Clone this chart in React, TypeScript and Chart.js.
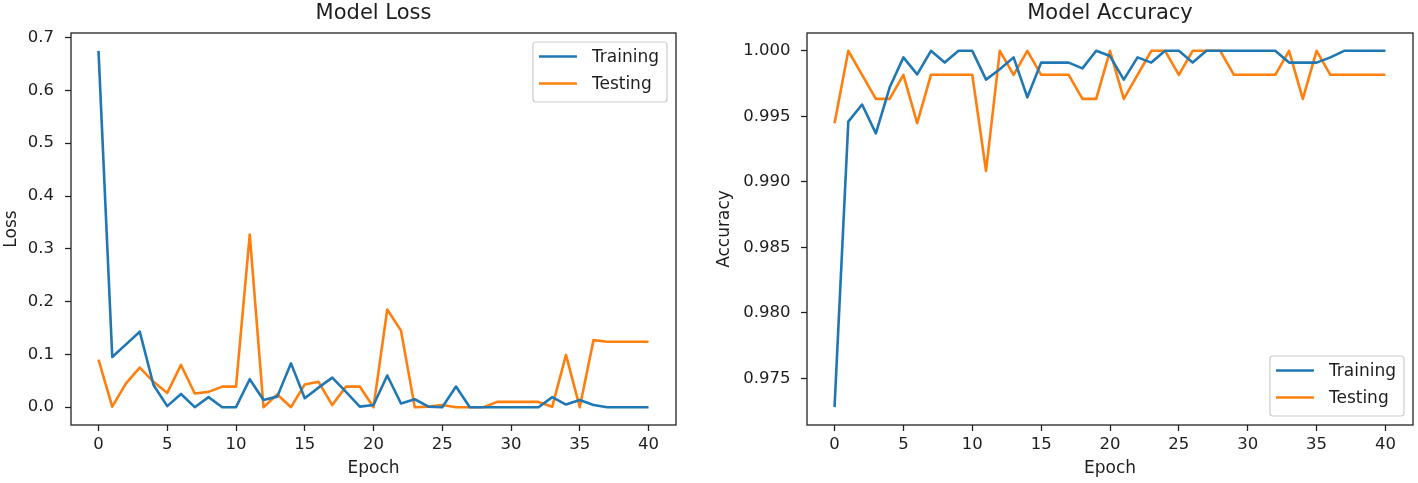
import React, { useEffect, useRef } from 'react';
import { Chart, registerables } from 'chart.js';

Chart.register(...registerables);

// ---------- data ----------
const epochs = [0, 1, 2, 3, 4, 5, 6, 7, 8, 9, 10, 11, 12, 13, 14, 15, 16, 17, 18, 19, 20,
  21, 22, 23, 24, 25, 26, 27, 28, 29, 30, 31, 32, 33, 34, 35, 36, 37, 38, 39, 40];

const trainLoss = [0.675, 0.095, 0.119, 0.143, 0.042, 0.002, 0.025, 0, 0.019, 0, 0,
  0.053, 0.0135, 0.02, 0.083, 0.017, 0.037, 0.056, 0.029, 0.001, 0.004,
  0.06, 0.007, 0.015, 0.001, 0, 0.039, 0, 0, 0, 0,
  0, 0, 0.019, 0.005, 0.0135, 0.004, 0, 0, 0, 0];

const testLoss = [0.09, 0.001, 0.045, 0.075, 0.048, 0.027, 0.08, 0.026, 0.029, 0.039, 0.039,
  0.327, 0, 0.024, 0, 0.043, 0.048, 0.004, 0.039, 0.039, 0,
  0.185, 0.145, 0, 0.001, 0.004, 0, 0, 0, 0.01, 0.01,
  0.01, 0.01, 0.001, 0.099, 0, 0.127, 0.124, 0.124, 0.124, 0.124];

const trainAcc = [0.9728, 0.9946, 0.9959, 0.9937, 0.9972, 0.9995, 0.9982, 1, 0.9991, 1, 1,
  0.9978, 0.9986, 0.9995, 0.99645, 0.9991, 0.9991, 0.9991, 0.99866, 1, 0.9996,
  0.9978, 0.9995, 0.9991, 1, 1, 0.9991, 1, 1, 1, 1,
  1, 1, 0.9991, 0.9991, 0.9991, 0.9995, 1, 1, 1, 1];

const testAcc = [0.99448, 1, 0.99817, 0.99633, 0.99633, 0.99817, 0.99448, 0.99817, 0.99817, 0.99817, 0.99817,
  0.99083, 1, 0.99817, 1, 0.99817, 0.99817, 0.99817, 0.99633, 0.99633, 1,
  0.99633, 0.99817, 1, 1, 0.99817, 1, 1, 1, 0.99817, 0.99817,
  0.99817, 0.99817, 1, 0.99633, 1, 0.99817, 0.99817, 0.99817, 0.99817, 0.99817];

const epochTicks = [0, 5, 10, 15, 20, 25, 30, 35, 40];
const lossTicks = [0, 0.1, 0.2, 0.3, 0.4, 0.5, 0.6, 0.7];
const accTicks = [0.975, 0.98, 0.985, 0.99, 0.995, 1.0];

const seriesLabels = ['Training', 'Testing'];

// ---------- styles ----------
const FONT = '"DejaVu Sans", sans-serif';
const TEXT = '#1e1e1e';
const AXIS = '#222222';
const BLUE = '#1f77b4';
const ORANGE = '#ff7f0e';

const framePlugin = {
  id: 'frame',
  afterDraw(chart: any) {
    const { ctx, chartArea } = chart;
    const { left, top, right, bottom } = chartArea;
    ctx.save();
    ctx.strokeStyle = AXIS;
    ctx.lineWidth = 1.3;
    ctx.strokeRect(left, top, right - left, bottom - top);
    ctx.restore();
  },
};

const mplLegendPlugin = {
  id: 'mplLegend',
  afterDatasetsDraw(chart: any, _args: any, opts: any) {
    const { ctx, chartArea } = chart;
    const ds = chart.data.datasets;
    const fontSize = 17;
    ctx.save();
    ctx.font = `${fontSize}px ${FONT}`;
    const textW = Math.max(...ds.map((d: any) => ctx.measureText(d.label).width));
    const padL = 6, lineLen = 38, gap = 15, padR = 8;
    const w = padL + lineLen + gap + textW + padR;
    const h = 60;
    const margin = 9;
    const x = chartArea.right - margin - w;
    const y = opts.loc === 'lower right' ? chartArea.bottom - margin - h : chartArea.top + margin;
    ctx.beginPath();
    ctx.roundRect(x, y, w, h, 3);
    ctx.fillStyle = 'rgba(255,255,255,0.8)';
    ctx.fill();
    ctx.strokeStyle = '#cccccc';
    ctx.lineWidth = 1.2;
    ctx.stroke();
    ds.forEach((d: any, i: number) => {
      const cy = y + 14.5 + i * 27;
      ctx.beginPath();
      ctx.moveTo(x + padL, cy);
      ctx.lineTo(x + padL + lineLen, cy);
      ctx.strokeStyle = d.borderColor;
      ctx.lineWidth = 2.6;
      ctx.stroke();
      ctx.fillStyle = TEXT;
      ctx.textBaseline = 'middle';
      ctx.textAlign = 'left';
      ctx.fillText(d.label, x + padL + lineLen + gap, cy + 1);
    });
    ctx.restore();
  },
};

function buildConfig(p: {
  title: string;
  yTitle: string;
  train: number[];
  test: number[];
  yMin: number;
  yMax: number;
  yTicks: number[];
  decimals: number;
  yWidth: number;
  yTitlePad: number;
  yTickPad: number;
  rightPad: number;
  legendLoc: string;
}) {
  const toPts = (arr: number[]) => epochs.map((e, i) => ({ x: e, y: arr[i] }));
  return {
    type: 'line',
    data: {
      datasets: [
        { label: seriesLabels[0], data: toPts(p.train), borderColor: BLUE, backgroundColor: BLUE },
        { label: seriesLabels[1], data: toPts(p.test), borderColor: ORANGE, backgroundColor: ORANGE },
      ],
    },
    options: {
      responsive: false,
      animation: false,
      devicePixelRatio: 1,
      elements: {
        line: { borderWidth: 2.6, tension: 0, borderJoinStyle: 'round', borderCapStyle: 'butt' },
        point: { radius: 0, hoverRadius: 0 },
      },
      layout: { padding: { left: 0, right: p.rightPad, top: 0, bottom: 0 } },
      plugins: {
        legend: { display: false },
        tooltip: { enabled: false },
        title: {
          display: true,
          text: p.title,
          fullSize: false,
          color: TEXT,
          font: { family: FONT, size: 21, weight: 'normal', lineHeight: 1.2 },
          padding: { top: 1, bottom: 6.8 },
        },
        mplLegend: { loc: p.legendLoc },
      },
      scales: {
        x: {
          type: 'linear',
          position: 'bottom',
          min: -2,
          max: 42,
          afterBuildTicks: (scale: any) => {
            scale.ticks = epochTicks.map((v) => ({ value: v }));
          },
          afterFit: (scale: any) => {
            scale.height = 58;
          },
          grid: {
            display: true,
            drawOnChartArea: false,
            drawTicks: true,
            tickLength: 6,
            tickColor: AXIS,
            tickWidth: 1.3,
          },
          border: { display: false },
          ticks: {
            color: TEXT,
            padding: 4,
            maxRotation: 0,
            font: { family: FONT, size: 16.5 },
            callback: (v: any) => String(v),
          },
          title: {
            display: true,
            text: 'Epoch',
            color: TEXT,
            font: { family: FONT, size: 17, lineHeight: 1.2 },
            padding: { top: 0, bottom: 4 },
          },
        },
        y: {
          type: 'linear',
          position: 'left',
          min: p.yMin,
          max: p.yMax,
          afterBuildTicks: (scale: any) => {
            scale.ticks = p.yTicks.map((v) => ({ value: v }));
          },
          afterFit: (scale: any) => {
            scale.width = p.yWidth;
          },
          grid: {
            display: true,
            drawOnChartArea: false,
            drawTicks: true,
            tickLength: 6,
            tickColor: AXIS,
            tickWidth: 1.3,
          },
          border: { display: false },
          ticks: {
            color: TEXT,
            padding: p.yTickPad,
            font: { family: FONT, size: 16.5 },
            callback: (v: any) => Number(v).toFixed(p.decimals),
          },
          title: {
            display: true,
            text: p.yTitle,
            color: TEXT,
            font: { family: FONT, size: 17, lineHeight: 1.2 },
            padding: { top: p.yTitlePad, bottom: 0 },
          },
        },
      },
    },
    plugins: [framePlugin, mplLegendPlugin],
  } as any;
}

function Panel({ left, width, height, config }: { left: number; width: number; height: number; config: any }) {
  const ref = useRef<HTMLCanvasElement>(null);
  useEffect(() => {
    if (!ref.current) return;
    const chart = new Chart(ref.current, config);
    return () => chart.destroy();
  }, []);
  return (
    <canvas
      ref={ref}
      width={width}
      height={height}
      style={{ position: 'absolute', left, top: 0, width, height, display: 'block' }}
    />
  );
}

export default function App() {
  const lossConfig = buildConfig({
    title: 'Model Loss',
    yTitle: 'Loss',
    train: trainLoss,
    test: testLoss,
    yMin: -0.03375,
    yMax: 0.70875,
    yTicks: lossTicks,
    decimals: 1,
    yWidth: 71,
    yTitlePad: 1,
    yTickPad: 11,
    rightPad: 24,
    legendLoc: 'upper right',
  });
  const accConfig = buildConfig({
    title: 'Model Accuracy',
    yTitle: 'Accuracy',
    train: trainAcc,
    test: testAcc,
    yMin: 0.97144,
    yMax: 1.00136,
    yTicks: accTicks,
    decimals: 3,
    yWidth: 107,
    yTitlePad: 14,
    yTickPad: 10.6,
    rightPad: 5,
    legendLoc: 'lower right',
  });
  return (
    <div style={{ position: 'absolute', left: 0, top: 0, width: 1418, height: 483, background: '#ffffff' }}>
      <Panel left={0} width={700} height={483} config={lossConfig} />
      <Panel left={700} width={718} height={483} config={accConfig} />
    </div>
  );
}
